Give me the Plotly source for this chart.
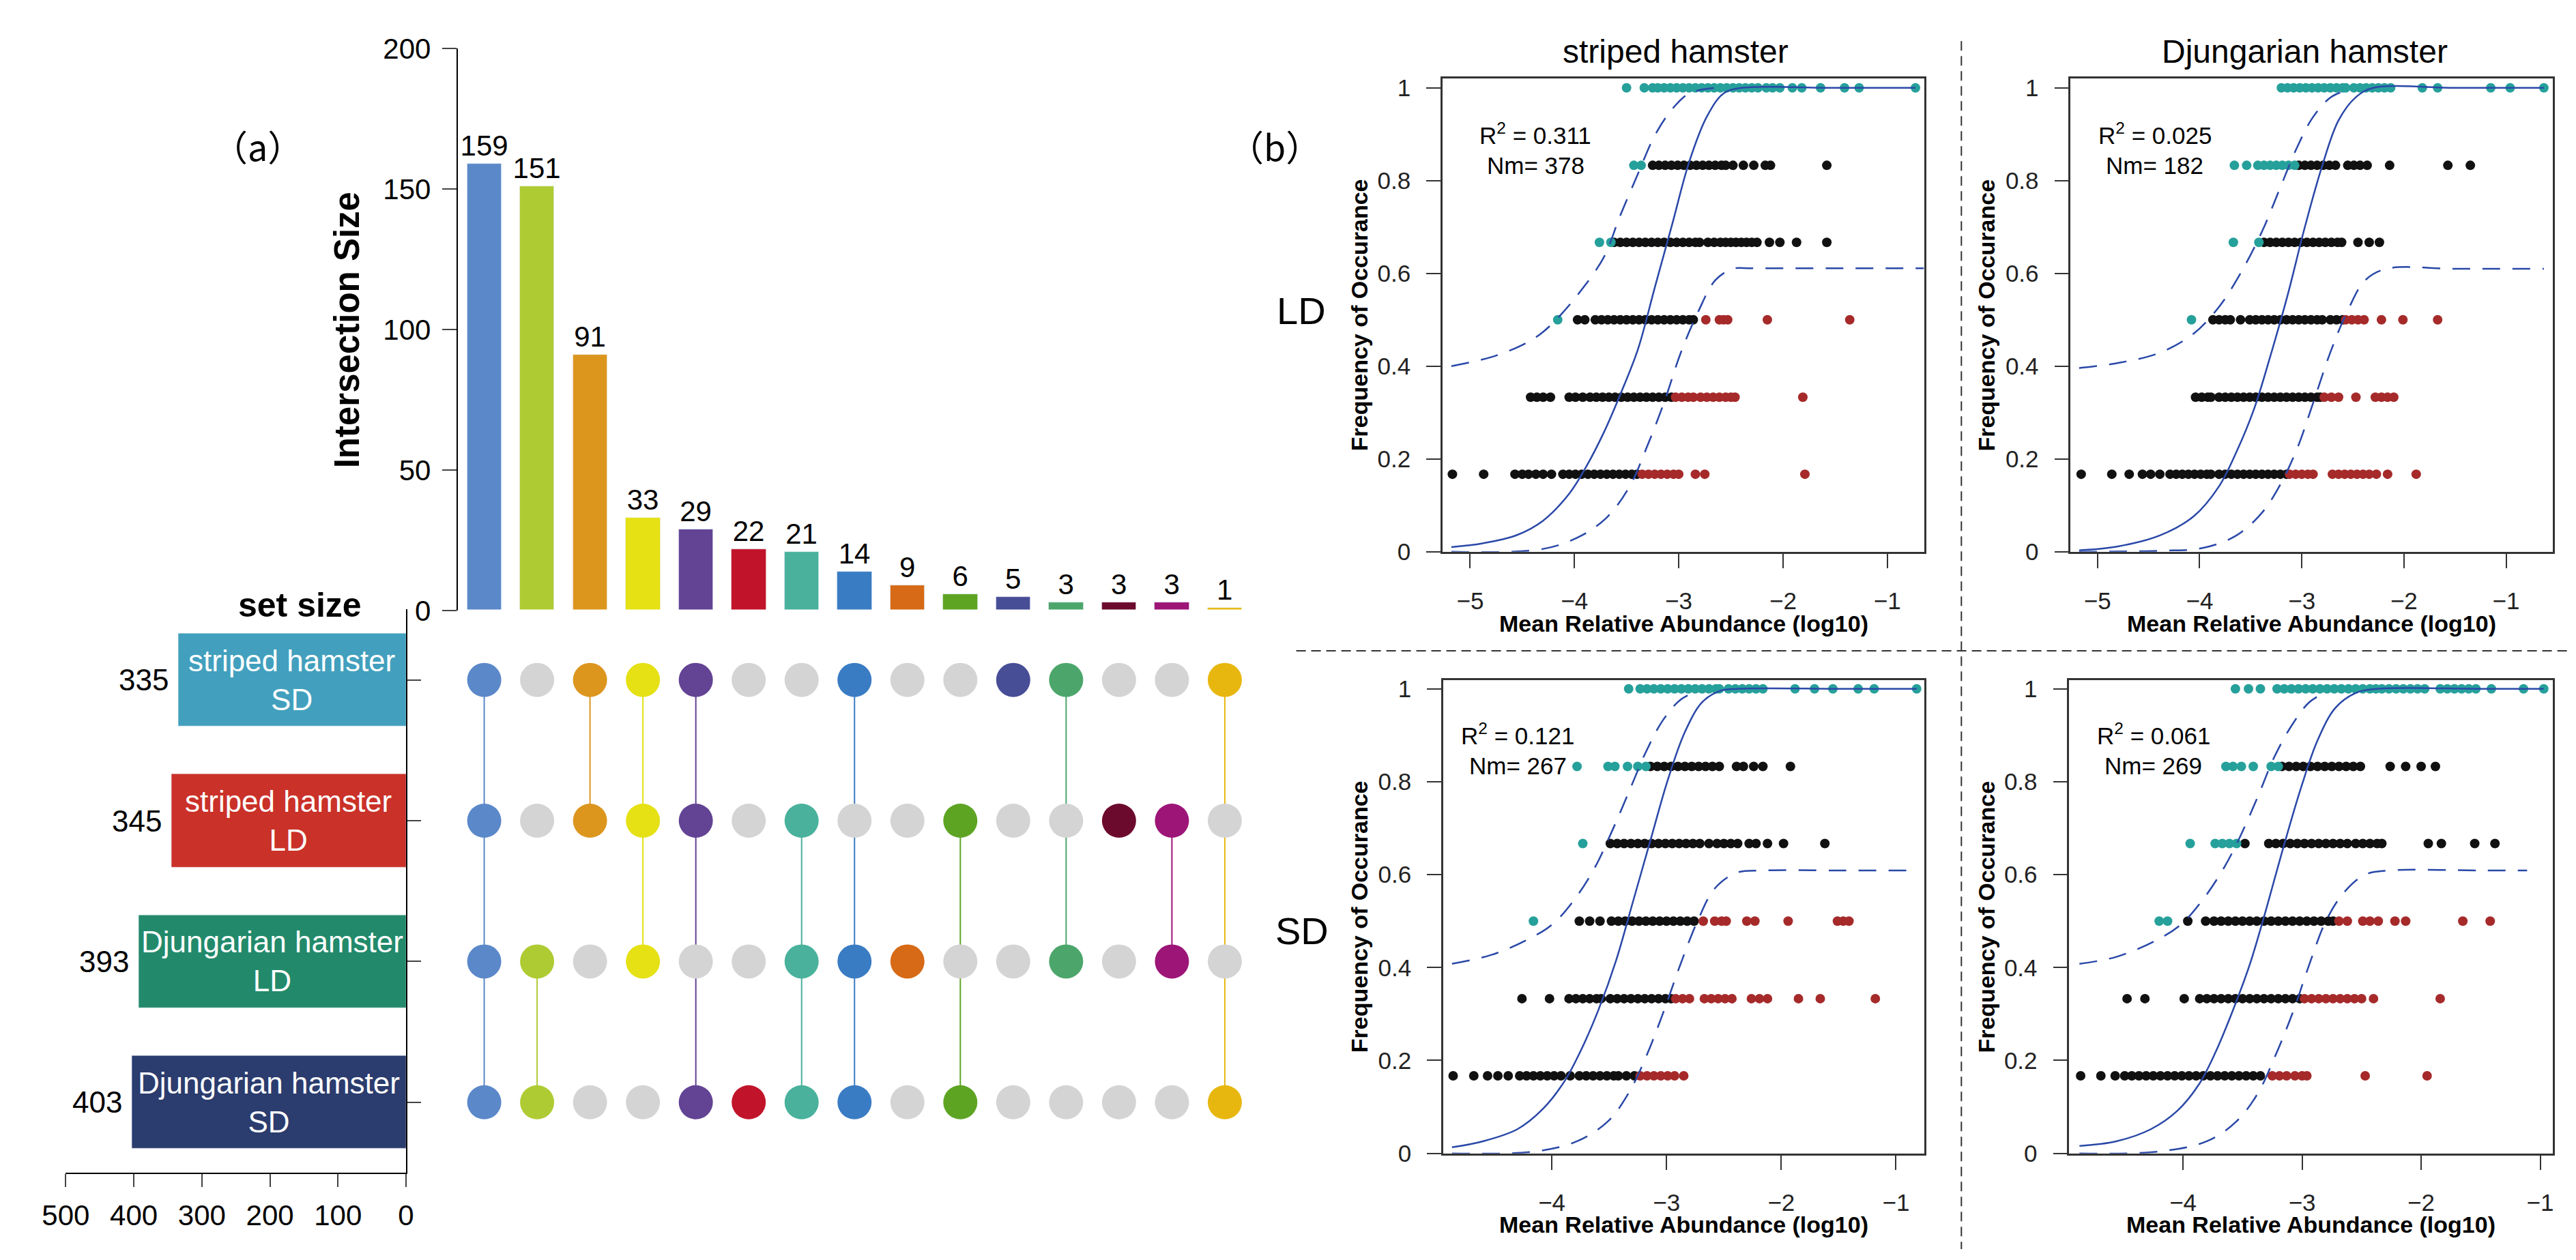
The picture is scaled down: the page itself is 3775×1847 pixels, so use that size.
"""UpSet plot (a) + neutral community model fits (b), hamster gut microbiota."""
import plotly.graph_objects as go

W, H = 3775, 1847
FONT = "Liberation Sans, Arial, sans-serif"


def px(x):
    return x / W


def py(y):
    return 1 - y / H


# ---------------- (a) UpSet data ----------------
SETS = ["striped hamster<br>SD", "striped hamster<br>LD", "Djungarian hamster<br>LD", "Djungarian hamster<br>SD"]
SET_SIZES = [335, 345, 393, 403]
SET_COLORS = ["#42A0BE", "#CA3128", "#228A6B", "#2B3C6E"]

INTER_SIZES = [159, 151, 91, 33, 29, 22, 21, 14, 9, 6, 5, 3, 3, 3, 1]
INTER_COLORS = ["#5B88C9", "#AFCB33", "#DC961E", "#E5E114", "#624394", "#C1142A", "#49B19C",
                "#3A7CC3", "#D66A16", "#5DA423", "#474E96", "#4CA66B", "#6C0A2D", "#9C1577", "#E8B70F"]
# row index (0 = striped SD, 1 = striped LD, 2 = Djungarian LD, 3 = Djungarian SD)
MEMBERS = [[0, 1, 2, 3], [2, 3], [0, 1], [0, 1, 2], [0, 1, 3], [3], [1, 2, 3],
           [0, 2, 3], [2], [1, 3], [0], [0, 2], [1], [1, 2], [0, 3]]

# ---------------- (b) neutral model data ----------------
# striped hamster LD
SLD_BLACK = {
    0.167: [-5.17, -4.87, -4.57, -4.50, -4.44, -4.37, -4.30, -4.22, -4.11, -4.05, -3.99, -3.93, -3.87, -3.81,
            -3.75, -3.69, -3.63, -3.57, -3.51, -3.45, -3.40],
    0.333: [-4.42, -4.36, -4.30, -4.23, -4.05, -3.99, -3.92, -3.85, -3.79, -3.73, -3.67, -3.61, -3.55, -3.49,
            -3.43, -3.37, -3.31, -3.25, -3.19, -3.13, -3.07],
    0.5: [-3.97, -3.90, -3.80, -3.74, -3.68, -3.62, -3.56, -3.50, -3.44, -3.38, -3.32, -3.26, -3.20, -3.14,
          -3.08, -3.02, -2.96, -2.90, -2.86],
    0.667: [-3.62, -3.56, -3.50, -3.44, -3.38, -3.32, -3.26, -3.20, -3.14, -3.08, -3.02, -2.96, -2.90, -2.84,
            -2.80, -2.72, -2.66, -2.60, -2.55, -2.50, -2.45, -2.40, -2.35, -2.30, -2.25, -2.13, -2.03, -1.87, -1.58],
    0.833: [-3.25, -3.19, -3.13, -3.07, -3.01, -2.95, -2.89, -2.83, -2.77, -2.71, -2.65, -2.59, -2.55, -2.48,
            -2.38, -2.28, -2.17, -2.12, -1.58],
}
SLD_RED = {
    0.167: [-3.35, -3.29, -3.23, -3.17, -3.11, -3.05, -3.00, -2.84, -2.75, -1.79],
    0.333: [-3.03, -2.97, -2.91, -2.86, -2.79, -2.73, -2.67, -2.61, -2.55, -2.50, -2.46, -1.81],
    0.5: [-2.74, -2.61, -2.57, -2.53, -2.15, -1.36],
}
SLD_TEAL = {
    0.5: [-4.16],
    0.667: [-3.76, -3.65],
    0.833: [-3.43, -3.36],
    1.0: [-3.50, -3.33, -3.25, -3.20, -3.14, -3.08, -3.02, -2.96, -2.90, -2.84, -2.78, -2.72, -2.66, -2.60,
          -2.54, -2.48, -2.42, -2.36, -2.30, -2.24, -2.16, -2.10, -2.03, -1.91, -1.82, -1.64, -1.41, -1.27, -0.73],
}
SLD_FIT_X = [-5.18, -4.88, -4.55, -4.30, -4.05, -3.89, -3.72, -3.56, -3.39, -3.23, -3.06, -2.90, -2.73, -2.57, -2.40, -1.50, -0.73]
SLD_FIT_Y = [0.010, 0.018, 0.036, 0.067, 0.125, 0.182, 0.256, 0.339, 0.437, 0.569, 0.708, 0.840, 0.938, 0.988, 1.0, 1.0, 1.0]
SLD_UP_X = [-5.18, -4.79, -4.46, -4.30, -4.13, -3.93, -3.72, -3.56, -3.39, -3.23, -3.06, -2.90, -2.65]
SLD_UP_Y = [0.400, 0.420, 0.450, 0.474, 0.511, 0.565, 0.634, 0.725, 0.815, 0.897, 0.955, 0.988, 1.0]
SLD_LO_X = [-5.18, -4.30, -3.93, -3.68, -3.47, -3.31, -3.14, -2.98, -2.81, -2.65, -2.48, -2.30, -1.50, -0.65]
SLD_LO_Y = [0.0, 0.006, 0.035, 0.076, 0.141, 0.223, 0.322, 0.429, 0.519, 0.585, 0.610, 0.611, 0.611, 0.611]

# Djungarian hamster LD
DLD_BLACK = {
    0.167: [-5.16, -4.86, -4.69, -4.56, -4.48, -4.39, -4.29, -4.23, -4.17, -4.11, -4.05, -3.99, -3.93, -3.89,
            -3.81, -3.75, -3.69, -3.63, -3.57, -3.51, -3.45, -3.39, -3.33, -3.27, -3.21, -3.15],
    0.333: [-4.04, -3.98, -3.92, -3.89, -3.81, -3.75, -3.69, -3.63, -3.57, -3.51, -3.45, -3.39, -3.33, -3.27,
            -3.21, -3.15, -3.09, -3.03, -2.97, -2.91, -2.85, -2.82],
    0.5: [-3.87, -3.81, -3.75, -3.70, -3.60, -3.51, -3.45, -3.39, -3.33, -3.27, -3.21, -3.15, -3.09, -3.03,
          -2.97, -2.91, -2.85, -2.80, -2.72, -2.66, -2.60],
    0.667: [-3.37, -3.31, -3.25, -3.19, -3.13, -3.07, -3.01, -2.95, -2.89, -2.83, -2.77, -2.71, -2.65, -2.61,
            -2.45, -2.34, -2.24],
    0.833: [-3.03, -2.97, -2.91, -2.85, -2.79, -2.73, -2.67, -2.55, -2.49, -2.43, -2.36, -2.14, -1.57, -1.35],
}
DLD_RED = {
    0.167: [-3.12, -3.06, -3.00, -2.94, -2.89, -2.70, -2.64, -2.58, -2.52, -2.46, -2.40, -2.34, -2.27, -2.16, -1.88],
    0.333: [-2.78, -2.71, -2.64, -2.47, -2.28, -2.22, -2.16, -2.10],
    0.5: [-2.57, -2.51, -2.45, -2.39, -2.22, -2.01, -1.67],
}
DLD_TEAL = {
    0.5: [-4.08],
    0.667: [-3.67, -3.42],
    0.833: [-3.66, -3.54, -3.43, -3.37, -3.31, -3.25, -3.19, -3.13, -3.07],
    1.0: [-3.20, -3.14, -3.08, -3.02, -2.96, -2.90, -2.84, -2.78, -2.72, -2.66, -2.60, -2.57, -2.49, -2.43,
          -2.37, -2.31, -2.25, -2.19, -2.13, -1.82, -1.67, -1.15, -0.96, -0.63],
}
DLD_FIT_X = [-5.18, -4.81, -4.39, -4.06, -3.81, -3.64, -3.47, -3.31, -3.14, -2.97, -2.80, -2.64, -2.47, -2.30, -1.50, -0.63]
DLD_FIT_Y = [0.003, 0.011, 0.035, 0.076, 0.141, 0.215, 0.306, 0.420, 0.552, 0.700, 0.832, 0.930, 0.980, 1.0, 1.0, 1.0]
DLD_UP_X = [-5.18, -4.77, -4.39, -4.06, -3.81, -3.60, -3.39, -3.22, -3.05, -2.89, -2.72, -2.55]
DLD_UP_Y = [0.396, 0.408, 0.429, 0.470, 0.528, 0.600, 0.690, 0.780, 0.870, 0.937, 0.979, 0.996]
DLD_LO_X = [-5.18, -4.39, -3.97, -3.64, -3.39, -3.22, -3.05, -2.89, -2.72, -2.55, -2.38, -2.17, -1.50, -0.63]
DLD_LO_Y = [0.0, 0.002, 0.008, 0.035, 0.084, 0.141, 0.220, 0.320, 0.430, 0.520, 0.585, 0.610, 0.610, 0.610]

# striped hamster SD
SSD_BLACK = {
    0.167: [-4.86, -4.68, -4.56, -4.47, -4.38, -4.28, -4.22, -4.16, -4.10, -4.04, -3.98, -3.92, -3.84, -3.76,
            -3.70, -3.64, -3.58, -3.52, -3.46, -3.42, -3.35, -3.28],
    0.333: [-4.26, -4.02, -3.85, -3.79, -3.73, -3.67, -3.61, -3.57, -3.49, -3.43, -3.37, -3.31, -3.25, -3.19,
            -3.13, -3.07, -3.01, -2.96],
    0.5: [-3.76, -3.67, -3.58, -3.48, -3.42, -3.36, -3.30, -3.24, -3.18, -3.12, -3.06, -3.00, -2.94, -2.88,
          -2.82, -2.76],
    0.667: [-3.49, -3.43, -3.37, -3.31, -3.25, -3.19, -3.13, -3.07, -3.01, -2.95, -2.89, -2.83, -2.77, -2.71,
            -2.63, -2.56, -2.50, -2.44, -2.38, -2.28, -2.22, -2.12, -1.98, -1.62],
    0.833: [-3.14, -3.08, -3.02, -2.96, -2.90, -2.84, -2.78, -2.72, -2.66, -2.60, -2.54, -2.39, -2.33, -2.24,
            -2.16, -1.92],
}
SSD_RED = {
    0.167: [-3.23, -3.17, -3.11, -3.05, -2.99, -2.93, -2.85],
    0.333: [-2.92, -2.86, -2.80, -2.67, -2.61, -2.55, -2.49, -2.43, -2.26, -2.19, -2.12, -1.85, -1.66, -1.18],
    0.5: [-2.68, -2.58, -2.52, -2.48, -2.30, -2.23, -1.94, -1.51, -1.46, -1.41],
}
SSD_TEAL = {
    0.5: [-4.16],
    0.667: [-3.73],
    0.833: [-3.78, -3.51, -3.45, -3.34, -3.25, -3.18],
    1.0: [-3.33, -3.23, -3.17, -3.11, -3.05, -2.99, -2.93, -2.87, -2.81, -2.75, -2.69, -2.63, -2.57, -2.54,
          -2.46, -2.40, -2.34, -2.28, -2.22, -2.16, -1.88, -1.71, -1.55, -1.33, -1.19, -0.82],
}
SSD_FIT_X = [-4.87, -4.60, -4.30, -4.08, -3.89, -3.74, -3.59, -3.44, -3.29, -3.14, -2.99, -2.84, -2.69, -2.54, -2.39, -1.50, -0.82]
SSD_FIT_Y = [0.013, 0.026, 0.052, 0.095, 0.155, 0.225, 0.311, 0.415, 0.544, 0.674, 0.803, 0.907, 0.971, 0.995, 1.0, 1.0, 1.0]
SSD_UP_X = [-4.87, -4.53, -4.23, -4.00, -3.81, -3.63, -3.48, -3.33, -3.18, -3.03, -2.88, -2.73]
SSD_UP_Y = [0.408, 0.427, 0.458, 0.492, 0.544, 0.613, 0.691, 0.777, 0.864, 0.933, 0.976, 0.995]
SSD_LO_X = [-4.87, -4.15, -3.78, -3.51, -3.33, -3.18, -3.03, -2.88, -2.73, -2.58, -2.39, -2.16, -1.50, -0.82]
SSD_LO_Y = [0.0, 0.004, 0.026, 0.069, 0.130, 0.207, 0.302, 0.406, 0.500, 0.570, 0.604, 0.609, 0.609, 0.609]

# Djungarian hamster SD
DSD_BLACK = {
    0.167: [-4.86, -4.69, -4.57, -4.49, -4.43, -4.37, -4.31, -4.25, -4.19, -4.13, -4.07, -4.01, -3.95, -3.89,
            -3.83, -3.77, -3.71, -3.65, -3.59, -3.53, -3.47, -3.41, -3.35],
    0.333: [-4.47, -4.32, -3.99, -3.86, -3.80, -3.74, -3.68, -3.62, -3.56, -3.50, -3.44, -3.38, -3.32, -3.26,
            -3.20, -3.14, -3.08, -3.02],
    0.5: [-3.96, -3.81, -3.74, -3.68, -3.62, -3.56, -3.50, -3.44, -3.38, -3.32, -3.26, -3.20, -3.14, -3.08,
          -3.02, -2.96, -2.90, -2.84, -2.78, -2.74],
    0.667: [-3.48, -3.28, -3.22, -3.16, -3.10, -3.04, -2.98, -2.92, -2.86, -2.80, -2.74, -2.68, -2.62, -2.55,
            -2.49, -2.43, -2.37, -2.33, -1.94, -1.83, -1.55, -1.38],
    0.833: [-3.17, -3.11, -3.05, -2.99, -2.93, -2.87, -2.81, -2.75, -2.69, -2.63, -2.57, -2.51, -2.26, -2.13,
            -2.00, -1.88],
}
DSD_RED = {
    0.167: [-3.25, -3.19, -3.13, -3.06, -3.00, -2.96, -2.47, -1.95],
    0.333: [-2.98, -2.92, -2.86, -2.80, -2.74, -2.68, -2.62, -2.56, -2.50, -2.40, -1.84],
    0.5: [-2.69, -2.62, -2.49, -2.43, -2.36, -2.22, -2.13, -1.65, -1.42],
}
DSD_TEAL = {
    0.5: [-4.20, -4.13],
    0.667: [-3.94, -3.73, -3.67, -3.61, -3.55],
    0.833: [-3.64, -3.58, -3.51, -3.41, -3.26, -3.20],
    1.0: [-3.56, -3.45, -3.35, -3.21, -3.15, -3.09, -3.03, -2.97, -2.91, -2.85, -2.79, -2.73, -2.67, -2.61,
          -2.55, -2.49, -2.43, -2.38, -2.33, -2.27, -2.21, -2.15, -2.09, -2.03, -1.97, -1.84, -1.78, -1.72,
          -1.66, -1.60, -1.54, -1.41, -1.14, -0.97],
}
DSD_FIT_X = [-4.87, -4.56, -4.27, -4.05, -3.87, -3.73, -3.59, -3.44, -3.30, -3.16, -3.01, -2.87, -2.72, -2.55, -2.37, -1.50, -0.97]
DSD_FIT_Y = [0.016, 0.026, 0.052, 0.091, 0.147, 0.216, 0.302, 0.406, 0.527, 0.656, 0.786, 0.889, 0.959, 0.991, 1.0, 1.0, 1.0]
DSD_UP_X = [-4.87, -4.56, -4.23, -4.02, -3.84, -3.66, -3.52, -3.37, -3.23, -3.08, -2.94, -2.80]
DSD_UP_Y = [0.408, 0.423, 0.458, 0.492, 0.544, 0.613, 0.682, 0.769, 0.855, 0.924, 0.971, 0.993]
DSD_LO_X = [-4.87, -4.20, -3.80, -3.55, -3.37, -3.23, -3.08, -2.94, -2.80, -2.65, -2.47, -2.26, -1.50, -1.11]
DSD_LO_Y = [0.0, 0.004, 0.026, 0.069, 0.130, 0.207, 0.302, 0.406, 0.500, 0.561, 0.600, 0.609, 0.609, 0.609]

R2 = ["0.311", "0.025", "0.121", "0.061"]
NM = ["378", "182", "267", "269"]

BLACK, TEAL, RED, LINE = "#111111", "#26A09B", "#A62A2A", "#2A48A8"
GRAY = "#D4D4D4"

fig = go.Figure()

# ---- intersection bars ----
cols = list(range(1, len(INTER_SIZES) + 1))
fig.add_trace(go.Bar(
    x=cols, y=INTER_SIZES, marker_color=INTER_COLORS, width=0.65,
    text=[str(v) for v in INTER_SIZES], textposition="outside", constraintext="none",
    textfont=dict(size=42, color="black", family=FONT), cliponaxis=False,
    xaxis="x", yaxis="y", showlegend=False,
))

# ---- set size bars ----
fig.add_trace(go.Bar(
    x=SET_SIZES, y=[0, 1, 2, 3], orientation="h", marker_color=SET_COLORS, width=0.66,
    xaxis="x2", yaxis="y2", showlegend=False,
))

# ---- matrix: connecting lines then dots ----
for c, mem, colr in zip(cols, MEMBERS, INTER_COLORS):
    if len(mem) > 1:
        fig.add_trace(go.Scatter(x=[c, c], y=[min(mem), max(mem)], mode="lines",
                                 line=dict(color=colr, width=2), xaxis="x3", yaxis="y3",
                                 showlegend=False, hoverinfo="skip"))
for c, mem, colr in zip(cols, MEMBERS, INTER_COLORS):
    fig.add_trace(go.Scatter(
        x=[c] * 4, y=[0, 1, 2, 3], mode="markers",
        marker=dict(size=50, color=[colr if r in mem else GRAY for r in range(4)], line=dict(width=0)),
        xaxis="x3", yaxis="y3", showlegend=False,
    ))

# ---- neutral model panels ----
PANELS = [
    ("x4", "y4", SLD_BLACK, SLD_RED, SLD_TEAL, SLD_FIT_X, SLD_FIT_Y, SLD_UP_X, SLD_UP_Y, SLD_LO_X, SLD_LO_Y),
    ("x5", "y5", DLD_BLACK, DLD_RED, DLD_TEAL, DLD_FIT_X, DLD_FIT_Y, DLD_UP_X, DLD_UP_Y, DLD_LO_X, DLD_LO_Y),
    ("x6", "y6", SSD_BLACK, SSD_RED, SSD_TEAL, SSD_FIT_X, SSD_FIT_Y, SSD_UP_X, SSD_UP_Y, SSD_LO_X, SSD_LO_Y),
    ("x7", "y7", DSD_BLACK, DSD_RED, DSD_TEAL, DSD_FIT_X, DSD_FIT_Y, DSD_UP_X, DSD_UP_Y, DSD_LO_X, DSD_LO_Y),
]
for xa, ya, blk, red, teal, fx, fy, ux, uy, lx, ly in PANELS:
    for grp, colr in ((blk, BLACK), (red, RED), (teal, TEAL)):
        xs, ys = [], []
        for lev, vals in grp.items():
            xs += vals
            ys += [lev] * len(vals)
        fig.add_trace(go.Scatter(x=xs, y=ys, mode="markers", marker=dict(size=14, color=colr),
                                 xaxis=xa, yaxis=ya, showlegend=False, cliponaxis=False))
    for cx, cy, dash in ((ux, uy, "26px,18px"), (lx, ly, "26px,18px"), (fx, fy, "solid")):
        fig.add_trace(go.Scatter(x=cx, y=cy, mode="lines", line=dict(color=LINE, width=2.5, dash=dash, shape="spline"),
                                 xaxis=xa, yaxis=ya, showlegend=False, hoverinfo="skip"))

# ---- axes ----
hidden = dict(showgrid=False, zeroline=False, showticklabels=False, ticks="", showline=False)
lay = dict(
    xaxis=dict(domain=[px(635.75), px(1813.25)], range=[0.5, 15.5], anchor="y", **hidden),
    yaxis=dict(domain=[py(887), py(41)], range=[0, 200], anchor="x", showgrid=False, zeroline=False,
               showline=True, linecolor="black", linewidth=2, ticks="outside", ticklen=21, tickwidth=2,
               tickvals=[0, 50, 100, 150, 200], ticklabelstandoff=8,
               tickfont=dict(size=42, color="black", family=FONT)),
    xaxis2=dict(domain=[px(54), px(559)], range=[500, 0], anchor="y2", showgrid=False, zeroline=False,
                showline=True, linecolor="black", linewidth=2, ticks="outside", ticklen=19, tickwidth=2,
                tickvals=[500, 400, 300, 200, 100, 0], ticklabelstandoff=6,
                tickfont=dict(size=42, color="black", family=FONT)),
    yaxis2=dict(domain=[py(1732), py(885)], range=[3.5, -0.5], anchor="x2", side="right", showgrid=False,
                zeroline=False, showline=True, linecolor="black", linewidth=2, ticks="outside", ticklen=20,
                tickwidth=2, tickvals=[0, 1, 2, 3], showticklabels=False),
    xaxis3=dict(domain=[px(635.75), px(1813.25)], range=[0.5, 15.5], anchor="y3", **hidden),
    yaxis3=dict(domain=[py(1732), py(885)], range=[3.5, -0.5], anchor="x3", **hidden),
)

PANEL_GEOM = [
    ("xaxis4", "yaxis4", "y4", "x4", (2097, 2812), (86, 798), [-5.265, -0.645], 1.0206, [-5, -4, -3, -2, -1]),
    ("xaxis5", "yaxis5", "y5", "x5", (3029, 3745), (86, 798), [-5.264, -0.54], 1.0206, [-5, -4, -3, -2, -1]),
    ("xaxis6", "yaxis6", "y6", "x6", (2098, 2812), (991, 1703), [-4.947, -0.753], 1.019, [-4, -3, -2, -1]),
    ("xaxis7", "yaxis7", "y7", "x7", (3027, 3745), (991, 1703), [-4.956, -0.892], 1.019, [-4, -3, -2, -1]),
]
tfont = dict(size=35, color="#222222", family=FONT)
for xk, yk, yref, xref, (x0, x1), (y0, y1), xr, ytop, xt in PANEL_GEOM:
    lay[xk] = dict(domain=[px(x0), px(x1)], range=xr, anchor=yref, showgrid=False, zeroline=False,
                   showline=True, mirror=True, linecolor="#333333", linewidth=2.5, ticks="outside",
                   ticklen=22, tickwidth=2, tickcolor="#333333", tickvals=xt, ticklabelstandoff=18,
                   tickfont=tfont)
    lay[yk] = dict(domain=[py(y1), py(y0)], range=[0, ytop], anchor=xref, showgrid=False, zeroline=False,
                   showline=True, mirror=True, linecolor="#333333", linewidth=2.5, ticks="outside",
                   ticklen=21, tickwidth=2, tickcolor="#333333", tickvals=[0, 0.2, 0.4, 0.6, 0.8, 1],
                   ticktext=["0", "0.2", "0.4", "0.6", "0.8", "1"], ticklabelstandoff=16, tickfont=tfont)

# ---- annotations ----
ann = []


def text_at(t, x, y, size, color="black", angle=0, xanchor="center", family=FONT):
    ann.append(dict(text=t, x=px(x), y=py(y), xref="paper", yref="paper", showarrow=False,
                    xanchor=xanchor, yanchor="middle", textangle=angle,
                    font=dict(size=size, color=color, family=family)))


text_at("（a）", 339, 187, 52, family="Noto Sans CJK SC, " + FONT)
text_at("（b）", 1848, 187, 52, family="Noto Sans CJK SC, " + FONT)
text_at("<b>Intersection Size</b>", 471, 465, 51, angle=-90)
text_at("<b>set size</b>", 402, 878, 50)

for i, (name, size) in enumerate(zip(SETS, SET_SIZES)):
    ann.append(dict(text=name, x=size / 2, y=i, xref="x2", yref="y2", showarrow=False,
                    font=dict(size=44, color="white", family=FONT)))
    ann.append(dict(text=str(size), x=size, y=i, xref="x2", yref="y2", showarrow=False,
                    xanchor="right", xshift=-12, font=dict(size=44, color="black", family=FONT)))

text_at("striped hamster", 2443, 46, 48)
text_at("Djungarian hamster", 3377, 46, 48)
text_at("LD", 1887, 436, 56)
text_at("SD", 1889, 1368, 56)
for x, y in ((1973, 442), (2904, 442), (1973, 1347), (2904, 1347)):
    text_at("<b>Frequency of Occurance</b>", x, y, 34, angle=-90)
for x, y in ((2455, 906), (3387, 906), (2455, 1810), (3386, 1810)):
    text_at("<b>Mean Relative Abundance (log10)</b>", x, y, 34)
for (x, y), r2, nm in zip(((2235, 169), (3154, 169), (2209, 1072), (3152, 1072)), R2, NM):
    text_at(f"R<sup>2</sup> = {r2}", x, y, 35)
    text_at(f"Nm= {nm}", x, y + 48, 35)

shapes = [
    dict(type="line", xref="paper", yref="paper", x0=px(2867), x1=px(2867), y0=py(30), y1=0,
         line=dict(color="#333333", width=2, dash="14px,8px")),
    dict(type="line", xref="paper", yref="paper", x0=px(1880), x1=1, y0=py(947), y1=py(947),
         line=dict(color="#333333", width=2, dash="14px,8px")),
]

fig.update_layout(
    **lay, annotations=ann, shapes=shapes,
    width=W, height=H, margin=dict(l=0, r=0, t=0, b=0),
    paper_bgcolor="white", plot_bgcolor="white", bargap=0,
    font=dict(family=FONT, color="black"),
)

fig.write_html("out.html")
